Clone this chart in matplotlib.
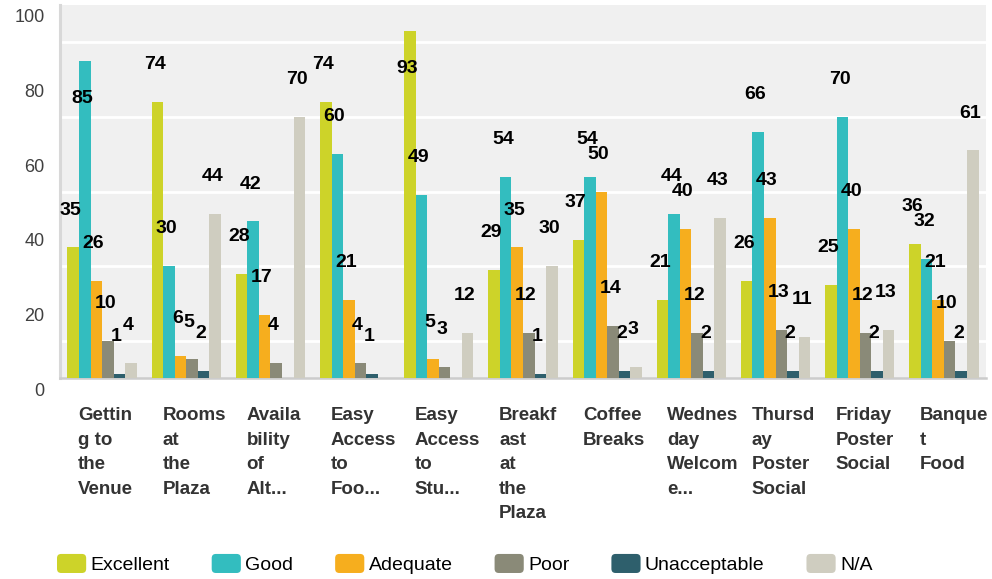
import matplotlib
matplotlib.use("Agg")
import matplotlib.pyplot as plt
from matplotlib.patches import Patch, FancyBboxPatch
from matplotlib.legend_handler import HandlerPatch
from matplotlib.transforms import ScaledTranslation
import numpy as np

plt.rcParams['font.family'] = ['Liberation Sans', 'DejaVu Sans']

categories = ["Gettin\ng to\nthe\nVenue", "Rooms\nat\nthe\nPlaza", "Availa\nbility\nof\nAlt...",
              "Easy\nAccess\nto\nFoo...", "Easy\nAccess\nto\nStu...", "Breakf\nast\nat\nthe\nPlaza",
              "Coffee\nBreaks", "Wednes\nday\nWelcom\ne...", "Thursd\nay\nPoster\nSocial",
              "Friday\nPoster\nSocial", "Banque\nt\nFood"]

excellent = [35, 74, 28, 74, 93, 29, 37, 21, 26, 25, 36]
good = [85, 30, 42, 60, 49, 54, 54, 44, 66, 70, 32]
adequate = [26, 6, 17, 21, 5, 35, 50, 40, 43, 40, 21]
poor = [10, 5, 4, 4, 3, 12, 14, 12, 13, 12, 10]
unacceptable = [1, 2, 0, 1, 0, 1, 2, 2, 2, 2, 2]
not_applicable = [4, 44, 70, 0, 12, 30, 3, 43, 11, 13, 61]

series_names = ["Excellent", "Good", "Adequate", "Poor", "Unacceptable", "N/A"]
series = [excellent, good, adequate, poor, unacceptable, not_applicable]
colors = ['#cdd329', '#33bdbf', '#f6ae1e', '#8a8a78', '#2e5f6c', '#cfcdc0']

fig = plt.figure(figsize=(9.92, 5.79), dpi=100)
ax = fig.add_axes([60/992, 1 - 378/579, 926/992, 373/579])
ax.set_facecolor('#f0f0f0')

x = np.arange(len(categories))
w = 0.137
for i, (vals, c) in enumerate(zip(series, colors)):
    pos = x + (i - 2.5) * w
    ax.bar(pos, vals, width=w, color=c, zorder=3, linewidth=0)
    for px, v in zip(pos, vals):
        if v == 0:
            continue
        # labels sit ~10 units above the bar, or inside it near the top
        ly = v + 10 if v + 10 <= 88 else v - 10
        ax.annotate(str(v), (px, ly), xytext=(-2, 0), textcoords='offset points',
                    ha='center', va='center', fontsize=14, fontweight='bold',
                    color='black', zorder=5)

ax.set_xlim(-0.5, len(categories) - 0.5)
ax.set_ylim(0, 100)

ax.set_yticks(range(0, 101, 20))
ax.set_yticks(range(0, 101, 10), minor=True)
ax.grid(which='minor', axis='y', color='white', linewidth=2, zorder=0)
ax.tick_params(axis='y', which='both', length=0, labelsize=13, labelcolor='#404040', pad=11)
for lab in ax.get_yticklabels():
    lab.set_transform(lab.get_transform() + ScaledTranslation(0, -0.11, fig.dpi_scale_trans))

ax.set_xticks(x)
ax.set_xticklabels(categories, ha='left', fontsize=13.5, fontweight='bold', color='#333333')
ax.tick_params(axis='x', length=0, pad=21)
for lab in ax.get_xticklabels():
    lab.set_linespacing(1.58)
    lab.set_transform(lab.get_transform() + ScaledTranslation(-0.24, 0, fig.dpi_scale_trans))

for s in ['top', 'right']:
    ax.spines[s].set_visible(False)
ax.spines['left'].set_color('#d8d8d8')
ax.spines['left'].set_linewidth(2.2)
ax.spines['bottom'].set_color('#cccccc')
ax.spines['bottom'].set_linewidth(1.8)


def rounded_box(legend, orig_handle, xdescent, ydescent, width, height, fontsize):
    return FancyBboxPatch((-xdescent, -ydescent), width, height,
                          boxstyle='round,pad=0,rounding_size=3')


handles = [Patch(facecolor=c, edgecolor='none', label=n) for n, c in zip(series_names, colors)]
fig.legend(handles=handles, loc='center left', bbox_to_anchor=(57/992, 1 - 564/579),
           ncol=6, frameon=False, fontsize=14, borderpad=0, borderaxespad=0,
           handlelength=1.5, handleheight=1.13, handletextpad=0.22, columnspacing=2.16,
           handler_map={Patch: HandlerPatch(patch_func=rounded_box)})

fig.savefig('out.png', dpi=100)
